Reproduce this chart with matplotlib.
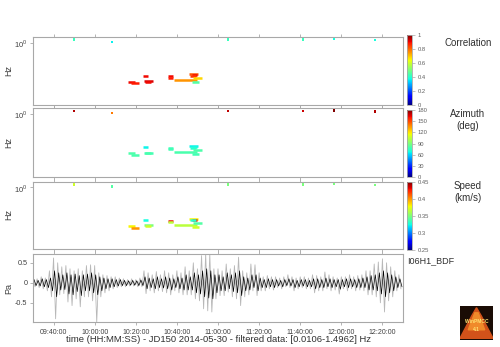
import numpy as np
import matplotlib
matplotlib.use("Agg")
import matplotlib.pyplot as plt
from matplotlib.colors import Normalize
import matplotlib.cm as cm

plt.rcParams["font.family"] = ["Liberation Sans", "DejaVu Sans"]
plt.rcParams["mathtext.fontset"] = "custom"
plt.rcParams["mathtext.rm"] = "Liberation Sans"

# ---------------- data ----------------
# time axis: minutes after 09:30:00
xtick_minutes = [10, 30, 50, 70, 90, 110, 130, 150, 170]
xtick_labels = ["09:40:00", "10:00:00", "10:20:00", "10:40:00", "11:00:00",
                "11:20:00", "11:40:00", "12:00:00", "12:20:00"]

# PMCC detections (horizontal pixels): start, end (min), frequency (Hz)
det_t0 = [46.4, 47.7, 53.7, 54.0, 54.5, 65.5, 65.8, 68.7, 76.0, 77.5, 76.5, 77.8, 77.2]
det_t1 = [49.6, 51.7, 55.8, 58.2, 57.5, 68.0, 68.0, 79.6, 80.4, 80.0, 79.5, 82.2, 80.9]
det_f = [0.058, 0.0515, 0.0895, 0.0622, 0.058, 0.0857, 0.078, 0.064, 0.099, 0.0935, 0.0875, 0.074, 0.0553]
det_corr = [0.9, 0.88, 0.9, 0.92, 0.9, 0.9, 0.88, 0.75, 0.82, 0.9, 0.85, 0.68, 0.45]
det_az = [80, 79, 66, 78, 79, 76, 78, 79, 66, 68, 72, 80, 78]
det_speed = [0.38, 0.40, 0.325, 0.35, 0.37, 0.43, 0.365, 0.365, 0.38, 0.43, 0.33, 0.34, 0.37]

# isolated high-frequency detections
pt_t = [19.9, 38.4, 94.9, 131.4, 146.4, 166.4]
pt_f = [1.26, 1.06, 1.26, 1.26, 1.30, 1.20]
pt_corr = [0.42, 0.36, 0.42, 0.42, 0.38, 0.38]
pt_az = [172, 140, 170, 168, 180, 172]
pt_speed = [0.37, 0.34, 0.35, 0.35, 0.35, 0.35]

# waveform envelope per 2-minute bin (Pa)
gray_hi = [0.12, 0.10, 0.15, 0.12, 0.30, 0.62, 0.50, 0.40, 0.43, 0.35,
           0.30, 0.35, 0.30, 0.43, 0.45, 0.43, 0.25, 0.20, 0.18, 0.15,
           0.15, 0.12, 0.10, 0.08, 0.10, 0.08, 0.12, 0.30, 0.25, 0.20,
           0.28, 0.20, 0.30, 0.25, 0.20, 0.30, 0.25, 0.40, 0.30, 0.50,
           0.35, 0.68, 0.72, 0.72, 0.35, 0.35, 0.30, 0.47, 0.35, 0.43,
           0.64, 0.30, 0.25, 0.47, 0.45, 0.25, 0.15, 0.18, 0.15, 0.15,
           0.12, 0.15, 0.20, 0.15, 0.12, 0.15, 0.15, 0.12, 0.20, 0.18,
           0.15, 0.27, 0.20, 0.15, 0.12, 0.15, 0.15, 0.20, 0.15, 0.18,
           0.20, 0.30, 0.30, 0.47, 0.52, 0.60, 0.50, 0.40, 0.30, 0.20]
gray_lo = [-0.10, -0.12, -0.15, -0.20, -0.35, -0.90, -0.30, -0.27, -0.48, -0.57,
           -0.40, -0.60, -0.35, -0.35, -0.45, -0.98, -0.35, -0.25, -0.20, -0.15,
           -0.12, -0.10, -0.10, -0.08, -0.08, -0.10, -0.10, -0.27, -0.20, -0.25,
           -0.20, -0.22, -0.25, -0.30, -0.20, -0.25, -0.30, -0.30, -0.30, -0.40,
           -0.45, -0.65, -0.70, -0.73, -0.40, -0.32, -0.32, -0.23, -0.35, -0.40,
           -0.57, -0.35, -0.30, -0.20, -0.32, -0.20, -0.20, -0.15, -0.18, -0.12,
           -0.15, -0.10, -0.12, -0.20, -0.15, -0.12, -0.15, -0.15, -0.25, -0.20,
           -0.20, -0.15, -0.20, -0.18, -0.28, -0.15, -0.20, -0.15, -0.20, -0.18,
           -0.20, -0.30, -0.30, -0.35, -0.50, -0.73, -0.45, -0.35, -0.20, -0.15]
black_hi = [0.08, 0.06, 0.10, 0.08, 0.12, 0.30, 0.25, 0.20, 0.25, 0.20,
            0.22, 0.18, 0.20, 0.22, 0.25, 0.20, 0.15, 0.12, 0.10, 0.10,
            0.08, 0.08, 0.06, 0.05, 0.06, 0.05, 0.07, 0.15, 0.12, 0.10,
            0.15, 0.10, 0.15, 0.12, 0.10, 0.15, 0.12, 0.20, 0.15, 0.25,
            0.20, 0.30, 0.35, 0.30, 0.20, 0.20, 0.15, 0.25, 0.20, 0.25,
            0.30, 0.15, 0.12, 0.20, 0.20, 0.12, 0.08, 0.10, 0.08, 0.08,
            0.06, 0.08, 0.10, 0.08, 0.06, 0.08, 0.08, 0.06, 0.10, 0.10,
            0.08, 0.12, 0.10, 0.08, 0.08, 0.08, 0.10, 0.10, 0.08, 0.10,
            0.12, 0.15, 0.18, 0.20, 0.25, 0.30, 0.25, 0.20, 0.15, 0.10]
black_lo = [-0.07, -0.08, -0.10, -0.12, -0.20, -0.35, -0.18, -0.17, -0.28, -0.30,
            -0.22, -0.32, -0.20, -0.20, -0.25, -0.30, -0.20, -0.15, -0.12, -0.10,
            -0.08, -0.07, -0.07, -0.06, -0.06, -0.07, -0.07, -0.15, -0.12, -0.15,
            -0.12, -0.13, -0.15, -0.18, -0.12, -0.15, -0.18, -0.18, -0.18, -0.25,
            -0.28, -0.35, -0.38, -0.40, -0.25, -0.20, -0.20, -0.15, -0.22, -0.25,
            -0.32, -0.20, -0.18, -0.12, -0.20, -0.12, -0.12, -0.10, -0.12, -0.08,
            -0.10, -0.07, -0.08, -0.12, -0.10, -0.08, -0.10, -0.10, -0.15, -0.12,
            -0.12, -0.10, -0.12, -0.10, -0.16, -0.10, -0.12, -0.10, -0.12, -0.12,
            -0.12, -0.18, -0.18, -0.20, -0.28, -0.35, -0.25, -0.20, -0.12, -0.10]
bin_minutes = 2.0

xlabel_text = "time (HH:MM:SS) - JD150 2014-05-30 - filtered data: [0.0106-1.4962] Hz"
station = "I06H1_BDF"

# ---------------- figure ----------------
W, H = 500, 347
fig = plt.figure(figsize=(W / 100, H / 100), dpi=100)
fig.patch.set_facecolor("white")

def frac(x0, y0, x1, y1):
    return [x0 / W, 1 - y1 / H, (x1 - x0) / W, (y1 - y0) / H]

spine_col = "#a8a8a8"
txt_col = "#404040"
cmap = plt.get_cmap("jet")

panels = [
    (frac(33, 37, 403, 105), frac(407, 35, 412, 105), det_corr, pt_corr, (0, 1),
     [0, 0.2, 0.4, 0.6, 0.8, 1], ["0", "0.2", "0.4", "0.6", "0.8", "1"], "Correlation", 43, 71),
    (frac(33, 108.5, 403, 177), frac(407, 110, 412, 177), det_az, pt_az, (0, 180),
     [0, 30, 60, 90, 120, 150, 180], ["0", "30", "60", "90", "120", "150", "180"], "Azimuth\n(deg)", 120, 143),
    (frac(33, 182, 403, 249), frac(407, 182, 412, 250), det_speed, pt_speed, (0.25, 0.45),
     [0.25, 0.3, 0.35, 0.4, 0.45], ["0.25", "0.3", "0.35", "0.4", "0.45"], "Speed\n(km/s)", 192, 215),
]

def style_axes(ax):
    for s in ax.spines.values():
        s.set_color(spine_col)
        s.set_linewidth(0.8)
    ax.set_xlim(0, 180)
    ax.set_xticks(xtick_minutes)
    ax.tick_params(axis="both", colors=spine_col, labelcolor=txt_col, length=2,
                   width=0.6, labelsize=5.2, direction="out", pad=2)
    ax.tick_params(axis="x", top=True, bottom=True)

for pos, cpos, dvals, pvals, (vmin, vmax), cticks, clabels, title, ty, hy in panels:
    ax = fig.add_axes(pos)
    style_axes(ax)
    ax.set_yscale("log")
    ax.set_ylim(0.0106, 1.4962)
    ax.set_yticks([1.0])
    ax.set_yticklabels([r"$10^0$"])
    ax.yaxis.set_minor_locator(matplotlib.ticker.NullLocator())
    ax.tick_params(axis="y", labelsize=5.5)
    ax.set_xticklabels([])
    fig.text(9 / W, 1 - hy / H, "Hz", rotation=90, ha="center", va="center",
             fontsize=6.5, color=txt_col)
    norm = Normalize(vmin, vmax)
    for t0, t1, f, v in zip(det_t0, det_t1, det_f, dvals):
        ax.hlines(f, t0, t1, colors=[cmap(norm(v))], linewidth=1.8)
    ax.scatter(pt_t, pt_f, c=[cmap(norm(v)) for v in pvals], s=3, marker="s",
               linewidths=0, zorder=3)
    cax = fig.add_axes(cpos)
    cb = fig.colorbar(cm.ScalarMappable(norm=norm, cmap=cmap), cax=cax)
    cb.set_ticks(cticks)
    cb.set_ticklabels(clabels)
    cb.outline.set_edgecolor(spine_col)
    cb.outline.set_linewidth(0.6)
    cax.tick_params(labelsize=4.2, colors=spine_col, labelcolor="#606060", length=2,
                    width=0.5, pad=2)
    fig.text(468 / W, 1 - ty / H, title, ha="center", va="center", fontsize=7,
             color="#303030", linespacing=1.3)

# waveform
ax4 = fig.add_axes(frac(33, 254, 403, 322))
style_axes(ax4)
nb = len(gray_hi)
tz = []
gz = []
bz = []
tb = []
for i in range(nb):
    tz += [i * bin_minutes, i * bin_minutes + bin_minutes / 2]
    gz += [gray_hi[i], gray_lo[i]]
    tb += [i * bin_minutes + bin_minutes / 4, i * bin_minutes + 3 * bin_minutes / 4]
    bz += [black_hi[i], black_lo[i]]
ax4.plot(tz, gz, color="#b8b8b8", linewidth=0.6)
ax4.plot(tb, bz, color="black", linewidth=0.5)
ax4.set_ylim(-0.98, 0.72)
ax4.set_yticks([-0.5, 0, 0.5])
ax4.set_yticklabels(["-0.5", "0", "0.5"])
ax4.set_xticklabels(xtick_labels)
ax4.tick_params(axis="x", labelsize=5, pad=3)
fig.text(9 / W, 1 - 288 / H, "Pa", rotation=90, ha="center", va="center",
         fontsize=6.5, color=txt_col)
fig.text(218 / W, 1 - 339.5 / H, xlabel_text, ha="center", va="center",
         fontsize=6.8, color="#303030")
fig.text(407 / W, 1 - 261 / H, station, ha="left", va="center", fontsize=6.5, color="#303030")

# logo
lax = fig.add_axes(frac(460, 306, 493, 340))
lax.set_facecolor("#1a0c05")
lax.set_xlim(0, 1)
lax.set_ylim(0, 1)
lax.fill([0.0, 0.35, 0.5, 0.65, 1.0], [0.05, 0.7, 0.95, 0.7, 0.05], color="#d2521a")
lax.fill([0.25, 0.45, 0.55, 0.75], [0.3, 0.8, 0.8, 0.3], color="#f08a2a")
lax.text(0.5, 0.55, "WinPMCC", ha="center", va="center", fontsize=3.5, color="#ffe070", weight="bold")
lax.text(0.5, 0.3, "4.1", ha="center", va="center", fontsize=3.5, color="#ffe070", weight="bold")
lax.set_xticks([])
lax.set_yticks([])
for s in lax.spines.values():
    s.set_visible(False)

fig.savefig("out.png", dpi=100)
